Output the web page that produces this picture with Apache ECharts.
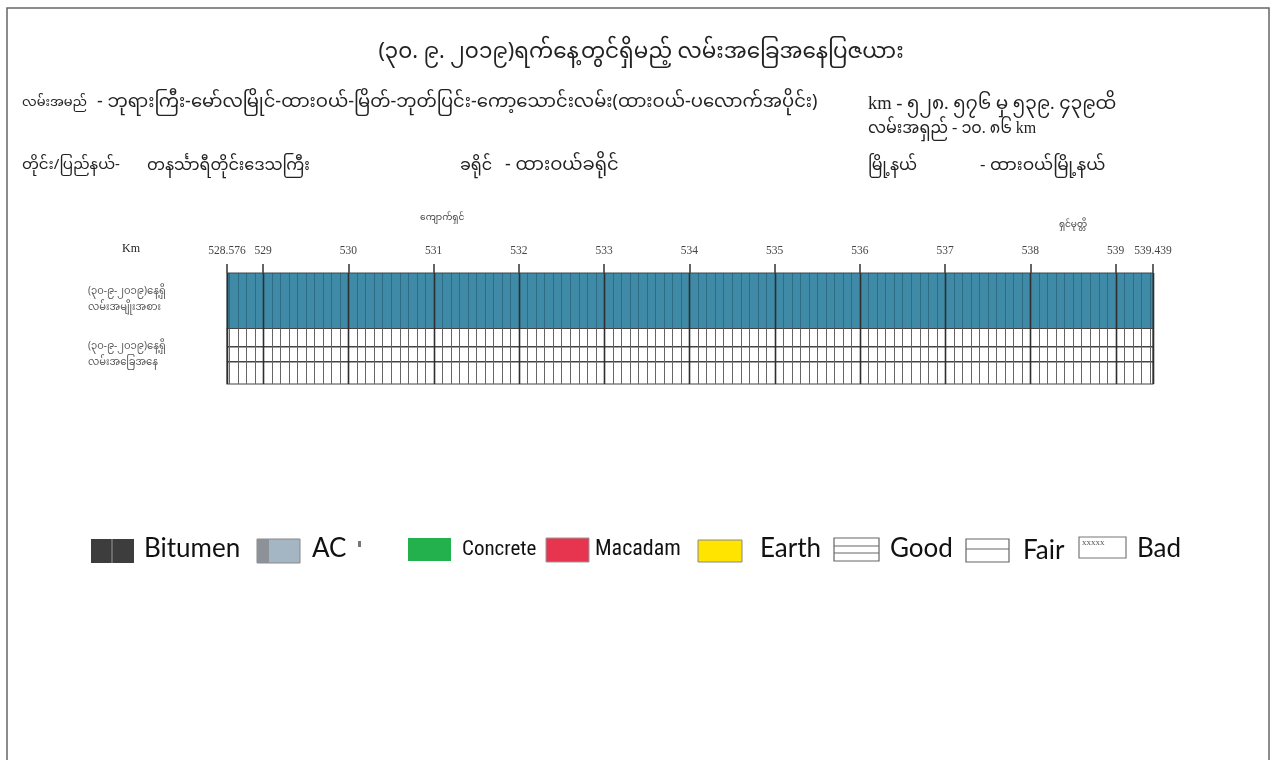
<!DOCTYPE html>
<html>
<head>
<meta charset="utf-8">
<script src="https://cdn.jsdelivr.net/npm/echarts@6/dist/echarts.min.js"></script>
<style>html,body{margin:0;padding:0;background:#fff}#c{width:1282px;height:760px}</style>
</head>
<body>
<div id="c"></div>
<script>
// ---- data ----
const titleText = '(၃၀. ၉. ၂၀၁၉)ရက်နေ့တွင်ရှိမည့် လမ်းအခြေအနေပြဇယား';
const rowLabels = ['(၃၀-၉-၂၀၁၉)နေ့ရှိ\nလမ်းအမျိုးအစား', '(၃၀-၉-၂၀၁၉)နေ့ရှိ\nလမ်းအခြေအနေ'];
const kmStart = 528.576;
const kmEnd = 539.439;
const kmTickLabels = [528.576, 529, 530, 531, 532, 533, 534, 535, 536, 537, 538, 539, 539.439];
const surfaceSegments = [[528.576, 539.439, 'AC']];
const conditionSegments = [[528.576, 539.439, 'Good']];
const villages = [['ကျောက်ရှင်', 531.1], ['ရှင်မုတ္တိ', 538.5]];
const legendItems = ['Bitumen', 'AC', 'Concrete', 'Macadam', 'Earth', 'Good', 'Fair', 'Bad'];
const headerLeft = [
  ['လမ်းအမည်', '- ဘုရားကြီး-မော်လမြိုင်-ထားဝယ်-မြိတ်-ဘုတ်ပြင်း-ကော့သောင်းလမ်း(ထားဝယ်-ပလောက်အပိုင်း)'],
  ['တိုင်း/ပြည်နယ်-', 'တနင်္သာရီတိုင်းဒေသကြီး'],
  ['ခရိုင်', '- ထားဝယ်ခရိုင်']
];
const headerRight = [
  'km - ၅၂၈. ၅၇၆ မှ ၅၃၉. ၄၃၉ထိ',
  'လမ်းအရှည် - ၁၀. ၈၆ km',
  ['မြို့နယ်', '- ထားဝယ်မြို့နယ်']
];

// ---- 0.1 km grid marks (scale, not data) ----
const gridMarks = [];
for (let i = Math.ceil(kmStart * 10); i <= Math.floor(kmEnd * 10); i++) {
  gridMarks.push([i / 10, i % 10 === 0 ? 1 : 0]);
}
gridMarks.push([kmStart, 1]);
gridMarks.push([kmEnd, 1]);

const surfaceColors = {Bitumen: '#3d3d3d', AC: '#3f8ba7', Concrete: '#23b14d', Macadam: '#e8354f', Earth: '#ffe400'};

const myFont = '"Noto Sans Myanmar","Padauk","Myanmar Text","Noto Sans",sans-serif';

const chart = echarts.init(document.getElementById('c'));

function rowRect(api, s, e, row) {
  const p = api.coord([s, row]);
  const sz = api.size([e - s, 1]);
  return {x: p[0], y: p[1] - sz[1] / 2, w: sz[0], h: sz[1]};
}

// legend graphics
const lg = [];
const lgFont = 'Lato, "Open Sans", sans-serif';
const narrow = '"Liberation Sans Narrow", "Roboto Condensed", sans-serif';
function txt(x, y, t, size, fam) {
  return {type: 'text', left: x, top: y, style: {text: t, fontSize: size, fontFamily: fam || lgFont, fill: '#111'}};
}
lg.push({type: 'rect', shape: {x: 91, y: 539, width: 43, height: 24}, style: {fill: '#3d3d3d'}});
lg.push({type: 'line', shape: {x1: 112, y1: 539, x2: 112, y2: 563}, style: {stroke: '#6a6a6a', lineWidth: 2}});
lg.push(txt(144, 536, legendItems[0], 26));
lg.push({type: 'rect', shape: {x: 257, y: 539, width: 43, height: 24}, style: {fill: '#a4b6c4', stroke: '#888', lineWidth: 1}});
lg.push({type: 'rect', shape: {x: 257, y: 539, width: 12, height: 24}, style: {fill: '#8d9298'}});
lg.push(txt(312, 536, legendItems[1], 26));
lg.push({type: 'rect', shape: {x: 358, y: 541, width: 3, height: 6}, style: {fill: '#777'}});
lg.push({type: 'rect', shape: {x: 408, y: 538, width: 43, height: 23}, style: {fill: '#23b14d'}});
lg.push(txt(462, 539, legendItems[2], 21, narrow));
lg.push({type: 'rect', shape: {x: 546, y: 538, width: 43, height: 24}, style: {fill: '#e8354f', stroke: '#999', lineWidth: 1}});
lg.push(txt(595, 538, legendItems[3], 22, narrow));
lg.push({type: 'rect', shape: {x: 698, y: 540, width: 44, height: 22}, style: {fill: '#ffe400', stroke: '#888', lineWidth: 1}});
lg.push(txt(760, 536, legendItems[4], 26));
lg.push({type: 'rect', shape: {x: 834, y: 538, width: 45, height: 23}, style: {fill: '#fff', stroke: '#666', lineWidth: 1.2}});
lg.push({type: 'line', shape: {x1: 834, y1: 546, x2: 879, y2: 546}, style: {stroke: '#666', lineWidth: 1.2}});
lg.push({type: 'line', shape: {x1: 834, y1: 553, x2: 879, y2: 553}, style: {stroke: '#666', lineWidth: 1.2}});
lg.push(txt(890, 536, legendItems[5], 26));
lg.push({type: 'rect', shape: {x: 966, y: 539, width: 43, height: 23}, style: {fill: '#fff', stroke: '#666', lineWidth: 1.2}});
lg.push({type: 'line', shape: {x1: 966, y1: 549, x2: 1009, y2: 549}, style: {stroke: '#666', lineWidth: 1.2}});
lg.push(txt(1023, 538, legendItems[6], 26));
lg.push({type: 'rect', shape: {x: 1079, y: 537, width: 47, height: 21}, style: {fill: '#fff', stroke: '#777', lineWidth: 1.2}});
lg.push({type: 'text', left: 1082, top: 538, style: {text: 'xxxxx', fontSize: 9, fontFamily: 'serif', fill: '#555'}});
lg.push(txt(1137, 536, legendItems[7], 26));

// header graphics
const hg = [];
function ht(x, y, t, size, fam) {
  return {type: 'text', left: x, top: y, style: {text: t, fontSize: size, fontFamily: fam || myFont, fill: '#222'}};
}
hg.push(ht(22, 98, headerLeft[0][0], 13));
hg.push(ht(97, 96, headerLeft[0][1], 18));
hg.push(ht(22, 160, headerLeft[1][0], 15));
hg.push(ht(147, 160, headerLeft[1][1], 16));
hg.push(ht(460, 160, headerLeft[2][0], 16));
hg.push(ht(505, 159, headerLeft[2][1], 18));
hg.push(ht(868, 95, headerRight[0], 18.5, '"Liberation Serif",' + myFont));
hg.push(ht(868, 121, headerRight[1], 16, '"Liberation Serif",' + myFont));
hg.push(ht(868, 160, headerRight[2][0], 16));
hg.push(ht(980, 160, headerRight[2][1], 17));
hg.push(ht(122, 243, 'Km', 12, '"Liberation Serif", serif'));

const option = {
  animation: false,
  backgroundColor: '#fff',
  title: {
    text: titleText, left: 'center', top: 40,
    textStyle: {fontSize: 21.5, fontWeight: 'normal', color: '#222', fontFamily: myFont}
  },
  grid: {left: 227, right: 129, top: 273, bottom: 376},
  xAxis: {
    type: 'value', position: 'top', min: kmStart, max: kmEnd,
    axisLine: {show: false},
    splitLine: {show: false},
    axisTick: {show: true, customValues: kmTickLabels, length: 9, lineStyle: {color: '#333', width: 1.5}},
    axisLabel: {
      customValues: kmTickLabels, margin: 16, fontSize: 11.5,
      fontFamily: '"Liberation Serif", serif', color: '#444',
      formatter: v => String(v)
    }
  },
  yAxis: {
    type: 'category', data: rowLabels, inverse: true,
    axisLine: {show: false}, axisTick: {show: false}, splitLine: {show: false},
    axisLabel: {align: 'left', margin: 139, fontSize: 10, lineHeight: 16, color: '#555', fontFamily: myFont}
  },
  graphic: [
    {type: 'rect', shape: {x: 7, y: 8, width: 1262, height: 800}, style: {fill: 'none', stroke: '#666', lineWidth: 1.5}, z: 100}
  ].concat(lg, hg),
  series: [
    {
      type: 'custom', name: 'surface',
      data: surfaceSegments.map(s => [s[0], s[1], 0, s[2]]),
      encode: {x: [0, 1], y: 2},
      renderItem: (params, api) => {
        const r = rowRect(api, api.value(0), api.value(1), 0);
        const t = surfaceSegments[params.dataIndex][2];
        return {type: 'rect', shape: {x: r.x, y: r.y, width: r.w, height: r.h},
          style: {fill: surfaceColors[t], stroke: '#3a4a50', lineWidth: 1}};
      }
    },
    {
      type: 'custom', name: 'condition',
      data: conditionSegments.map(s => [s[0], s[1], 1, s[2]]),
      encode: {x: [0, 1], y: 2},
      renderItem: (params, api) => {
        const r = rowRect(api, api.value(0), api.value(1), 1);
        const c = conditionSegments[params.dataIndex][2];
        const children = [{type: 'rect', shape: {x: r.x, y: r.y, width: r.w, height: r.h},
          style: {fill: '#fff', stroke: '#444', lineWidth: 1.2}}];
        const fr = c === 'Good' ? [0.33, 0.6] : (c === 'Fair' ? [0.45] : []);
        fr.forEach(f => children.push({type: 'line',
          shape: {x1: r.x, y1: r.y + r.h * f, x2: r.x + r.w, y2: r.y + r.h * f},
          style: {stroke: '#444', lineWidth: 1.4}}));
        return {type: 'group', children: children};
      }
    },
    {
      type: 'custom', name: 'grid', z: 5,
      data: gridMarks,
      encode: {x: 0},
      renderItem: (params, api) => {
        const x = api.value(0);
        const major = api.value(1) === 1;
        const a = rowRect(api, x, x, 0);
        const b = rowRect(api, x, x, 1);
        const px = Math.round(a.x) + 0.5;
        if (major) {
          return {type: 'line', shape: {x1: px, y1: a.y, x2: px, y2: b.y + b.h},
            style: {stroke: '#2e2e2e', lineWidth: 1.6}};
        }
        return {type: 'group', children: [
          {type: 'line', shape: {x1: px, y1: a.y, x2: px, y2: a.y + a.h}, style: {stroke: 'rgba(25,70,90,0.45)', lineWidth: 1}},
          {type: 'line', shape: {x1: px, y1: b.y, x2: px, y2: b.y + b.h}, style: {stroke: '#666', lineWidth: 1}}
        ]};
      }
    },
    {
      type: 'custom', name: 'villages',
      data: villages.map(v => [v[1]]),
      encode: {x: 0},
      renderItem: (params, api) => {
        const p = api.coord([api.value(0), 0]);
        return {type: 'text', x: p[0], y: 219 + params.dataIndex * 7,
          style: {text: villages[params.dataIndex][0], fontSize: 9, fontFamily: myFont, fill: '#444', align: 'center', verticalAlign: 'middle'}};
      }
    }
  ]
};
chart.setOption(option);
</script>
</body>
</html>
